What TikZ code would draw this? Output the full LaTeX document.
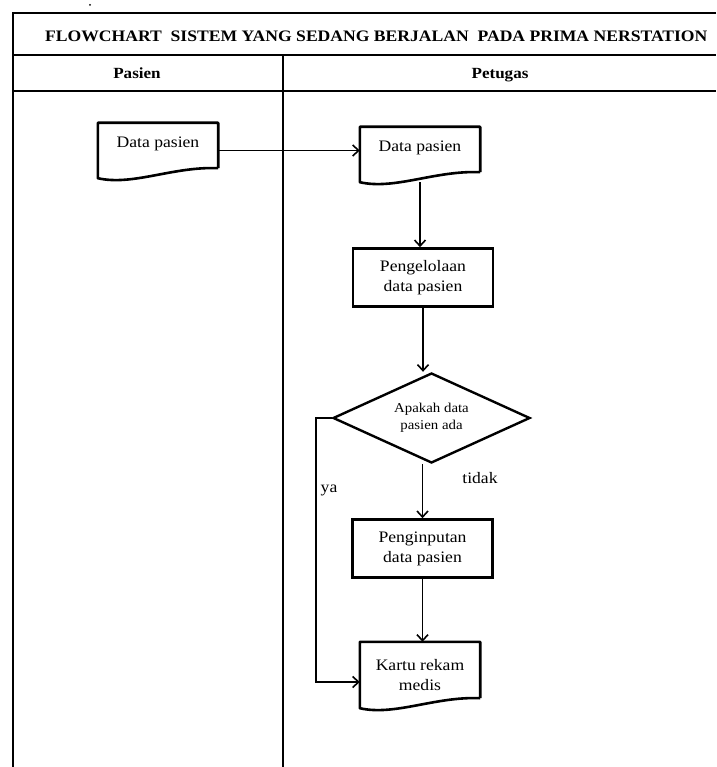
\documentclass[tikz,border=0pt]{standalone}
\usepackage{fontspec}
\setmainfont[FakeStretch=1.1]{Liberation Serif}
\usetikzlibrary{shapes.geometric, arrows.meta}
\tikzset{
  proses/.style = {draw, line width=2.6pt, minimum width=140, minimum height=58, align=center, font=\fontsize{16}{20}\selectfont},
  dokumen/.style = {minimum width=120, minimum height=55, align=center, inner sep=0pt, font=\fontsize{16}{20}\selectfont},
  keputusan/.style = {diamond, draw, line width=2.4pt, shape aspect=2.2, minimum width=197, minimum height=90, inner sep=0pt, align=center, font=\fontsize{13.5}{17}\selectfont},
  panah/.style = {-{Straight Barb[length=6pt, width=11pt]}, line width=1.6pt},
  garis/.style = {line width=1.8pt},
  judul/.style = {anchor=base, font=\bfseries\fontsize{15.5}{18}\selectfont}
}

\begin{document}
\begin{tikzpicture}[x=1pt, y=-1pt]
\useasboundingbox (0,0) rectangle (716,767);
\clip (0,0) rectangle (716,767);

% tabel swimlane
\draw[garis] (716,13) -- (13,13) -- (13,767);
\draw[garis] (13,55) -- (716,55);
\draw[garis] (13,91) -- (716,91);
\draw[garis] (283,55) -- (283,767);
\fill (90,5) circle (1);

% judul dan kolom
\node[anchor=base west, inner sep=0pt, font=\bfseries\fontsize{16}{20}\selectfont] (judul) at (45,42) {FLOWCHART\ \ SISTEM YANG SEDANG BERJALAN\ \ PADA PRIMA NERSTATION};
\node[judul] (pasien) at (137,79) {Pasien};
\node[judul] (petugas) at (500,79) {Petugas};

% simbol-simbol
\node[dokumen, text depth=16pt] (dpA) at (158,150.5) {Data pasien};
\node[dokumen, text depth=16pt] (dpB) at (420,154.5) {Data pasien};
\node[proses] (olah) at (423,277.5) {Pengelolaan\\data pasien};
\node[keputusan] (cek) at (431.5,418) {Apakah data\\pasien ada};
\node[proses] (input) at (422.5,548.5) {Penginputan\\data pasien};
\node[dokumen, minimum height=66] (kartu) at (420,675) {Kartu rekam\\medis};

% garis bawah bergelombang untuk dokumen
\foreach \d in {dpA, dpB, kartu}
  \draw[line width=2.6pt, line join=round] ([yshift=10pt]\d.south east) -- (\d.north east) -- (\d.north west) -- (\d.south west)
    .. controls +(35,8) and +(-45,-2) .. ([yshift=10pt]\d.south east);

% label
\node[font=\fontsize{16}{18}\selectfont] (tidak) at (480,478) {tidak};
\node[font=\fontsize{16}{18}\selectfont] (ya) at (329,490) {ya};
\coordinate (belok) at (316,418);

% alur
\draw[panah] (dpA.east) -- (dpA.east -| dpB.west);
\draw[panah] (dpB.south) -- (dpB.south |- olah.north);
\draw[panah] (olah.south) -- (olah.south |- cek.north);
\draw[panah] (cek.south -| input.north) -- (input.north);
\draw[panah] (input.south) -- (input.south |- kartu.north);
\draw[panah] (cek.west) -- (belok) |- ([yshift=-7pt]kartu.west);
\end{tikzpicture}
\end{document}
